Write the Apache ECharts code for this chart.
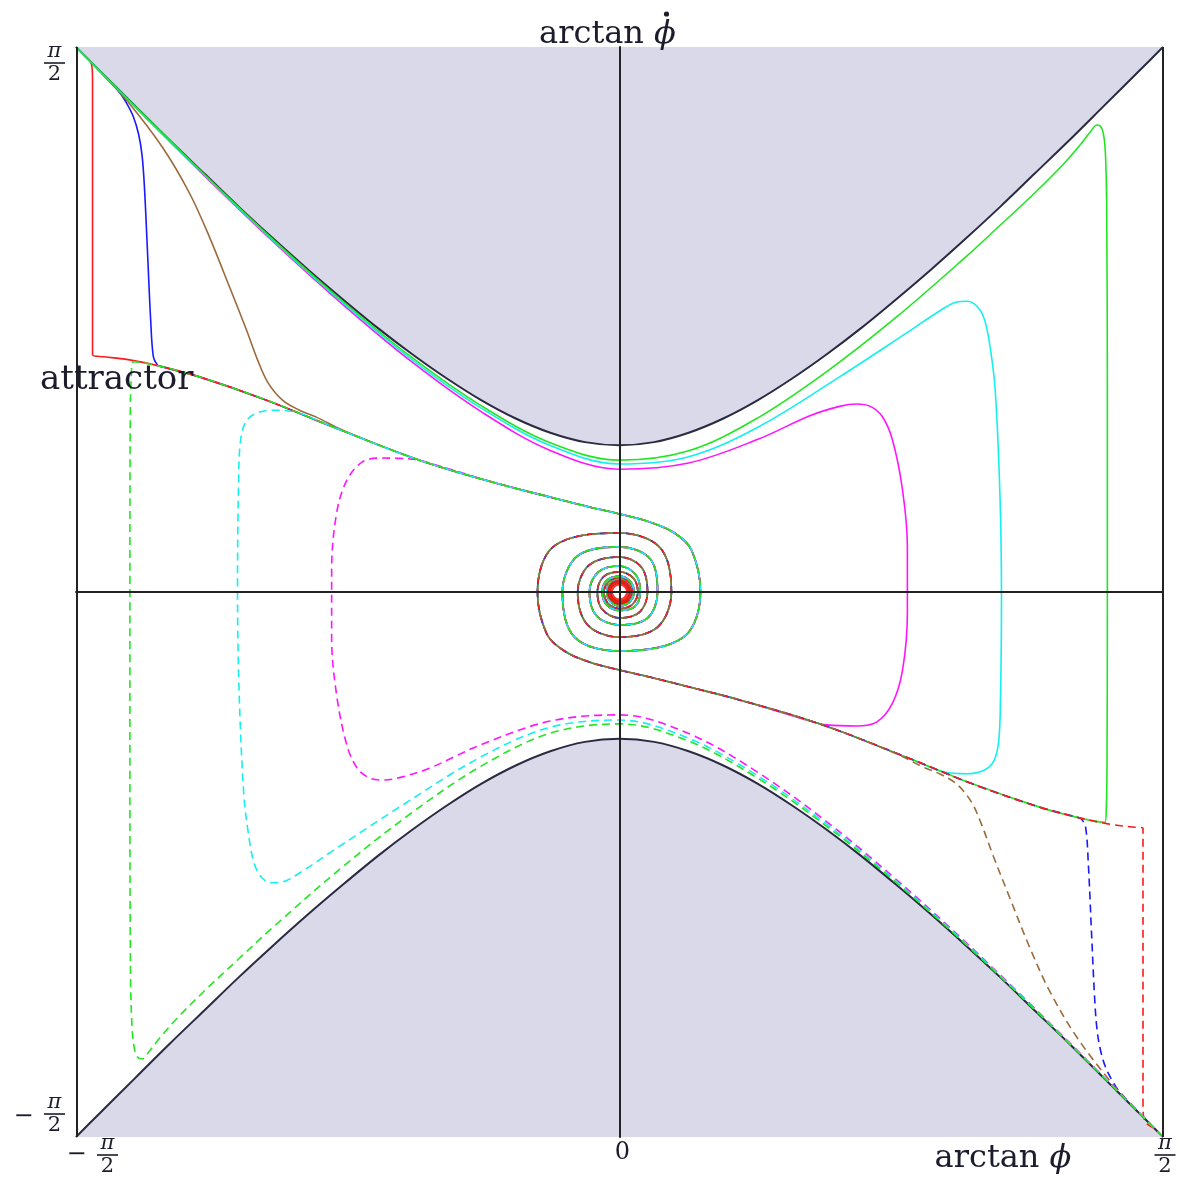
<!DOCTYPE html>
<html>
<head>
<meta charset="UTF-8">
<title>arctan phase portrait</title>
<script src="https://cdn.jsdelivr.net/npm/echarts@6/dist/echarts.min.js"></script>
<style>
  html, body { margin: 0; padding: 0; background: #fff; }
  #chart { width: 1180px; height: 1185px; }
</style>
</head>
<body>
<div id="chart"></div>
<script>
const HALF_PI = Math.PI / 2;

// tick labels (values are arctan of the variable, in radians)
const xTickValues = [-HALF_PI, 0, HALF_PI];
const xTickLabels = ['−π/2', '0', 'π/2'];
const yTickValues = [-HALF_PI, HALF_PI];
const yTickLabels = ['−π/2', 'π/2'];

// forbidden region boundary
const boundaryX = [-1.5708, -1.5, -1.4, -1.3, -1.2, -1.1, -1.0, -0.9, -0.8, -0.7, -0.6, -0.5, -0.4, -0.3, -0.2, -0.1, 0,
  0.1, 0.2, 0.3, 0.4, 0.5, 0.6, 0.7, 0.8, 0.9, 1.0, 1.1, 1.2, 1.3, 1.4, 1.5, 1.5708];
const boundaryTopY = [1.5708, 1.500, 1.401, 1.302, 1.206, 1.110, 1.018, 0.929, 0.844, 0.762, 0.686, 0.616, 0.553, 0.500, 0.459, 0.432, 0.423,
  0.432, 0.459, 0.500, 0.553, 0.616, 0.686, 0.762, 0.844, 0.929, 1.018, 1.110, 1.206, 1.302, 1.401, 1.500, 1.5708];
const boundaryBottomY = [-1.5708, -1.500, -1.401, -1.302, -1.206, -1.110, -1.018, -0.929, -0.844, -0.762, -0.686, -0.616, -0.553, -0.500, -0.459, -0.432, -0.423,
  -0.432, -0.459, -0.500, -0.553, -0.616, -0.686, -0.762, -0.844, -0.929, -1.018, -1.110, -1.206, -1.302, -1.401, -1.500, -1.5708];

// attractor branches + spirals into the origin
const upperLeftBranch = [[-1.523, 0.683], [-1.49, 0.678], [-1.416, 0.669], [-1.329, 0.651], [-1.214, 0.620], [-1.020, 0.553],
  [-0.829, 0.476], [-0.578, 0.380], [-0.347, 0.311], [-0.202, 0.274], [-0.087, 0.245], [0, 0.225]];
const lowerRightBranch = [[1.523, -0.683], [1.49, -0.678], [1.416, -0.669], [1.329, -0.651], [1.214, -0.620], [1.020, -0.553],
  [0.829, -0.476], [0.578, -0.380], [0.347, -0.311], [0.202, -0.274], [0.087, -0.245], [0, -0.225]];
const upperLeftSpiral = [[0.087, 0.202], [0.159, 0.170], [0.208, 0.121], [0.234, 0], [0.185, -0.130], [0, -0.170], [-0.130, -0.130],
  [-0.165, 0], [-0.121, 0.104], [0, 0.130], [0.089, 0.095], [0.110, 0], [0.081, -0.075], [0, -0.095], [-0.066, -0.069],
  [-0.087, 0], [-0.061, 0.058], [0, 0.075], [0.047, 0.050], [0.060, 0], [0.044, -0.042], [0, -0.053], [-0.037, -0.037],
  [-0.050, 0], [-0.036, 0.034], [0, 0.045], [0.031, 0.031], [0.042, 0], [0.029, -0.029], [0, -0.040], [-0.027, -0.027],
  [-0.037, 0], [-0.026, 0.026], [0, 0.035], [0.024, 0.024], [0.033, 0], [0.022, -0.022], [0, -0.031], [-0.021, -0.021],
  [-0.030, 0], [-0.020, 0.020], [0, 0.028], [0.019, 0.019], [0.026, 0]];
const lowerRightSpiral = [[-0.087, -0.202], [-0.159, -0.170], [-0.210, -0.121], [-0.237, 0], [-0.188, 0.133], [0, 0.170], [0.118, 0.127],
  [0.150, 0], [0.110, -0.101], [0, -0.130], [-0.092, -0.095], [-0.121, 0], [-0.087, 0.078], [0, 0.101], [0.063, 0.072],
  [0.081, 0], [0.058, -0.058], [0, -0.075], [-0.050, -0.050], [-0.064, 0], [-0.046, 0.044], [0, 0.058], [0.040, 0.040],
  [0.053, 0], [0.037, -0.036], [0, -0.048], [-0.033, -0.033], [-0.045, 0], [-0.031, 0.030], [0, 0.041], [0.028, 0.028],
  [0.039, 0], [0.027, -0.026], [0, -0.036], [-0.025, -0.025], [-0.034, 0], [-0.023, 0.023], [0, 0.032], [0.022, 0.022],
  [0.031, 0], [0.021, -0.021], [0, -0.029], [-0.019, -0.019], [-0.027, 0]];

// solid trajectories (start at top-left corner)
const redHead = [[-1.5708, 1.5708], [-1.548, 1.548], [-1.527, 1.525], [-1.523, 1.480], [-1.523, 1.200], [-1.523, 0.900], [-1.523, 0.700], [-1.523, 0.683]];
const blueHead = [[-1.5708, 1.5708], [-1.5, 1.499], [-1.445, 1.440], [-1.425, 1.410], [-1.405, 1.370], [-1.390, 1.320], [-1.380, 1.260],
  [-1.373, 1.167], [-1.364, 0.977], [-1.355, 0.784], [-1.347, 0.677], [-1.335, 0.654]];
const brownHead = [[-1.5708, 1.5708], [-1.5, 1.499], [-1.425, 1.418], [-1.321, 1.282], [-1.243, 1.150], [-1.185, 1.023], [-1.127, 0.879],
  [-1.078, 0.755], [-1.046, 0.669], [-1.017, 0.605], [-0.974, 0.553], [-0.925, 0.524], [-0.876, 0.504], [-0.795, 0.464]];
const greenHead = [[-1.5708, 1.5708], [-1.4, 1.400], [-1.2, 1.204], [-1.0, 1.015], [-0.8, 0.838], [-0.6, 0.676], [-0.4, 0.537], [-0.2, 0.430],
  [0, 0.380], [0.2, 0.407], [0.4, 0.502], [0.6, 0.636], [0.8, 0.792], [1.0, 0.965], [1.1, 1.057], [1.2, 1.150], [1.28, 1.230],
  [1.33, 1.287], [1.36, 1.325], [1.38, 1.346], [1.393, 1.338], [1.401, 1.305], [1.405, 1.250], [1.408, 1.120], [1.410, 0.550],
  [1.410, 0], [1.409, -0.500], [1.407, -0.620], [1.403, -0.664]];
const cyanHead = [[-1.5708, 1.5708], [-1.4, 1.399], [-1.2, 1.202], [-1.0, 1.012], [-0.8, 0.834], [-0.6, 0.670], [-0.4, 0.530], [-0.2, 0.422],
  [0, 0.369], [0.2, 0.390], [0.4, 0.475], [0.636, 0.620], [0.829, 0.746], [0.925, 0.810], [0.975, 0.836], [1.003, 0.838],
  [1.032, 0.825], [1.055, 0.785], [1.072, 0.700], [1.086, 0.580], [1.100, 0.265], [1.104, -0.023], [1.101, -0.311],
  [1.096, -0.430], [1.082, -0.487], [1.055, -0.513], [1.003, -0.524], [0.939, -0.519]];
const magentaHead = [[-1.5708, 1.5708], [-1.4, 1.398], [-1.2, 1.200], [-1.0, 1.009], [-0.8, 0.829], [-0.6, 0.663], [-0.4, 0.520], [-0.2, 0.408],
  [0, 0.354], [0.2, 0.372], [0.4, 0.440], [0.55, 0.508], [0.636, 0.535], [0.685, 0.542], [0.725, 0.535], [0.760, 0.505],
  [0.789, 0.438], [0.818, 0.294], [0.832, 0.130], [0.832, -0.061], [0.818, -0.225], [0.789, -0.320], [0.743, -0.375],
  [0.685, -0.386], [0.636, -0.385], [0.60, -0.383]];

// dashed trajectories (start at bottom-right corner)
const redDashHead = [[1.5708, -1.5708], [1.548, -1.548], [1.518, -1.525], [1.513, -1.480], [1.513, -1.200], [1.513, -0.900], [1.513, -0.700], [1.513, -0.680]];
const blueDashHead = [[1.5708, -1.5708], [1.5, -1.499], [1.445, -1.440], [1.425, -1.410], [1.405, -1.370], [1.390, -1.320], [1.380, -1.260],
  [1.373, -1.167], [1.364, -0.977], [1.355, -0.784], [1.347, -0.677], [1.335, -0.654]];
const brownDashHead = [[1.5708, -1.5708], [1.5, -1.499], [1.425, -1.418], [1.321, -1.282], [1.243, -1.150], [1.185, -1.023], [1.127, -0.879],
  [1.078, -0.755], [1.046, -0.669], [1.017, -0.605], [0.974, -0.553], [0.925, -0.524], [0.876, -0.504], [0.795, -0.464]];
const greenDashHead = [[1.5708, -1.5708], [1.4, -1.400], [1.2, -1.204], [1.0, -1.015], [0.8, -0.838], [0.6, -0.676], [0.4, -0.537], [0.2, -0.430],
  [0, -0.380], [-0.2, -0.407], [-0.4, -0.502], [-0.6, -0.636], [-0.8, -0.792], [-1.0, -0.965], [-1.1, -1.057], [-1.2, -1.150], [-1.28, -1.230],
  [-1.33, -1.287], [-1.36, -1.325], [-1.38, -1.346], [-1.395, -1.338], [-1.404, -1.305], [-1.409, -1.250], [-1.413, -1.120], [-1.415, -0.550],
  [-1.415, 0], [-1.414, 0.500], [-1.411, 0.620], [-1.405, 0.664]];
const cyanDashHead = [[1.5708, -1.5708], [1.4, -1.399], [1.2, -1.202], [1.0, -1.012], [0.8, -0.834], [0.6, -0.670], [0.4, -0.530], [0.2, -0.422],
  [0, -0.369], [-0.2, -0.390], [-0.4, -0.475], [-0.636, -0.620], [-0.829, -0.746], [-0.925, -0.810], [-0.975, -0.836], [-1.003, -0.838],
  [-1.032, -0.825], [-1.055, -0.785], [-1.072, -0.700], [-1.086, -0.580], [-1.100, -0.265], [-1.104, 0.023], [-1.101, 0.311],
  [-1.096, 0.430], [-1.082, 0.487], [-1.055, 0.513], [-1.003, 0.524], [-0.939, 0.519]];
const magentaDashHead = [[1.5708, -1.5708], [1.4, -1.398], [1.2, -1.200], [1.0, -1.009], [0.8, -0.829], [0.6, -0.663], [0.4, -0.520], [0.2, -0.408],
  [0, -0.354], [-0.2, -0.372], [-0.4, -0.440], [-0.55, -0.508], [-0.636, -0.535], [-0.685, -0.542], [-0.725, -0.535], [-0.760, -0.505],
  [-0.789, -0.438], [-0.818, -0.294], [-0.832, -0.130], [-0.832, 0.061], [-0.818, 0.225], [-0.789, 0.320], [-0.743, 0.375],
  [-0.685, 0.386], [-0.636, 0.385], [-0.60, 0.383]];

const centerPoint = [[0, 0]];

const COL = {
  red: '#ff1a1a', blue: '#1a1aff', brown: '#9c6b3c', green: '#22e622', cyan: '#14f0f0', magenta: '#ff14ff',
  edge: '#2a2a40', shade: '#d9d9ea', axis: '#222222', text: '#1c1c2c'
};
const FONT = '"DejaVu Serif", serif';

// head + the attractor tail it runs into
function intoUpperLeft(head) {
  const x = head[head.length - 1][0];
  return head.concat(upperLeftBranch.concat(upperLeftSpiral).filter(p => p[0] > x));
}
function intoLowerRight(head) {
  const x = head[head.length - 1][0];
  return head.concat(lowerRightBranch.concat(lowerRightSpiral).filter(p => p[0] < x));
}

function curve(data, color, dashed) {
  return {
    type: 'line', data: data, smooth: 0.35, showSymbol: false, symbol: 'none', clip: false,
    silent: true,
    lineStyle: { color: color, width: 1.6, type: dashed ? [8, 5] : 'solid' }
  };
}

var myChart = echarts.init(document.getElementById('chart'));

var series = [
  {
    type: 'line', data: boundaryX.map((x, i) => [x, boundaryTopY[i]]), smooth: 0.3, showSymbol: false, symbol: 'none',
    silent: true, lineStyle: { color: COL.edge, width: 2 }, areaStyle: { color: COL.shade, opacity: 1, origin: 'end' }
  },
  {
    type: 'line', data: boundaryX.map((x, i) => [x, boundaryBottomY[i]]), smooth: 0.3, showSymbol: false, symbol: 'none',
    silent: true, lineStyle: { color: COL.edge, width: 2 }, areaStyle: { color: COL.shade, opacity: 1, origin: 'start' }
  },
  // solid
  curve(intoUpperLeft(blueHead), COL.blue, false),
  curve(intoUpperLeft(redHead), COL.red, false),
  curve(intoUpperLeft(brownHead), COL.brown, false),
  curve(intoLowerRight(magentaHead), COL.magenta, false),
  curve(intoLowerRight(cyanHead), COL.cyan, false),
  curve(intoLowerRight(greenHead), COL.green, false),
  // dashed
  curve(intoLowerRight(blueDashHead), COL.blue, true),
  curve(intoLowerRight(redDashHead), COL.red, true),
  curve(intoLowerRight(brownDashHead), COL.brown, true),
  curve(intoUpperLeft(magentaDashHead), COL.magenta, true),
  curve(intoUpperLeft(cyanDashHead), COL.cyan, true),
  curve(intoUpperLeft(greenDashHead), COL.green, true),
  {
    type: 'scatter', data: centerPoint, symbol: 'circle', symbolSize: 19, silent: true, z: 4,
    itemStyle: { color: 'rgba(255,255,255,0)', borderColor: '#ff0000', borderWidth: 6 },
    markLine: {
      silent: true, symbol: 'none', label: { show: false },
      lineStyle: { color: COL.axis, width: 2, type: 'solid' },
      data: [{ xAxis: -HALF_PI }, { xAxis: HALF_PI }]
    }
  }
];

var axisBase = {
  type: 'value', min: -HALF_PI, max: HALF_PI, z: 10,
  axisLine: { onZero: true, lineStyle: { color: COL.axis, width: 2 } },
  axisTick: { show: false }, axisLabel: { show: false }, splitLine: { show: false }
};

myChart.setOption({
  animation: false,
  backgroundColor: '#ffffff',
  grid: { left: 76, right: 17, top: 47, bottom: 48 },
  xAxis: Object.assign({}, axisBase),
  yAxis: Object.assign({}, axisBase),
  series: series
});

// labels
function fraction(items, label, cx, cy, minusDy) {
  const m = label.match(/^(−?)([^\/]+)\/(.+)$/);
  const st = { font: '21px ' + FONT, fill: COL.text, align: 'center', verticalAlign: 'middle' };
  items.push({ type: 'text', z: 20, x: cx, y: cy - 11, style: Object.assign({}, st, { text: m[2], font: 'italic 21px ' + FONT }) });
  items.push({ type: 'rect', z: 20, shape: { x: cx - 10.5, y: cy - 0.8, width: 21, height: 1.6 }, style: { fill: COL.text } });
  items.push({ type: 'text', z: 20, x: cx, y: cy + 12, style: Object.assign({}, st, { text: m[3] }) });
  if (m[1]) {
    items.push({ type: 'text', z: 20, x: cx - 31, y: cy + minusDy, style: Object.assign({}, st, { text: '−', font: '24px ' + FONT }) });
  }
}

function drawLabels() {
  const items = [];
  const px = p => myChart.convertToPixel({ gridIndex: 0 }, p);
  yTickValues.forEach((v, i) => {
    const p = px([-HALF_PI, v]);
    fraction(items, yTickLabels[i], p[0] - 21.5, v > 0 ? p[1] + 16 : p[1] - 23, 3);
  });
  xTickValues.forEach((v, i) => {
    const p = px([v, -HALF_PI]);
    if (xTickLabels[i].indexOf('/') < 0) {
      items.push({ type: 'text', z: 20, x: p[0] + 3, y: p[1] + 16,
        style: { text: xTickLabels[i], font: '24px ' + FONT, fill: COL.text, align: 'center', verticalAlign: 'middle' } });
    } else {
      fraction(items, xTickLabels[i], v < 0 ? p[0] + 31.5 : p[0] + 2, p[1] + 18, 0);
    }
  });
  const top = px([0, HALF_PI]);
  const br = px([HALF_PI, -HALF_PI]);
  const rich = {
    r: { font: '32px ' + FONT, fill: COL.text },
    i: { font: 'italic 32px ' + FONT, fill: COL.text }
  };
  items.push({ type: 'text', z: 20, x: top[0] - 12, y: top[1] - 12,
    style: { text: '{r|arctan }{i|ϕ}', rich: rich, align: 'center', verticalAlign: 'middle' } });
  // time-derivative dot over phi
  items.push({ type: 'circle', z: 20, shape: { cx: top[0] + 47, cy: top[1] - 33, r: 2.6 }, style: { fill: COL.text } });
  items.push({ type: 'text', z: 20, x: br[0] - 160, y: br[1] + 22,
    style: { text: '{r|arctan }{i|ϕ}', rich: rich, align: 'center', verticalAlign: 'middle' } });
  items.push({ type: 'text', z: 20, x: 40, y: 380,
    style: { text: 'attractor', font: '34px ' + FONT, fill: COL.text, align: 'left', verticalAlign: 'middle' } });
  myChart.setOption({ graphic: items });
}
drawLabels();
</script>
</body>
</html>
